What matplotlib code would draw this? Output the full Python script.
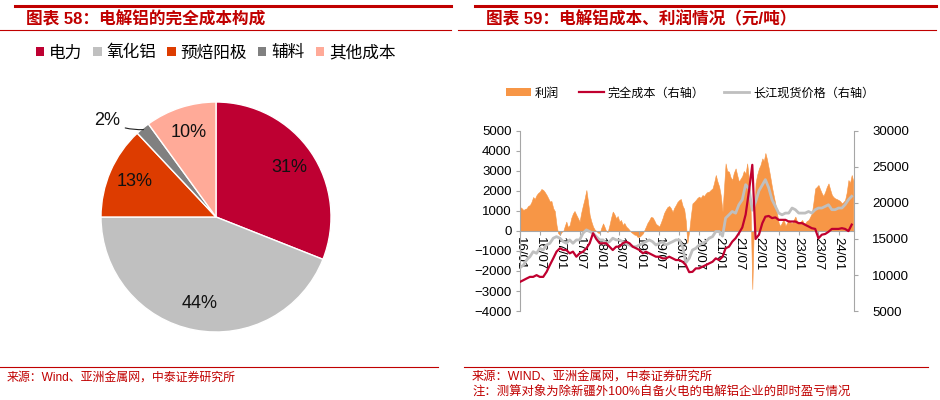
import pandas as pd
import matplotlib
matplotlib.use('Agg')
import matplotlib.pyplot as plt
import matplotlib.dates as mdates
from matplotlib.patches import Patch
from matplotlib.lines import Line2D

plt.rcParams['font.family'] = ['Liberation Sans', 'Noto Sans CJK SC', 'DejaVu Sans']
CJK = ['Noto Sans CJK SC', 'DejaVu Sans']
RED = '#C00000'
GRID = '#A6A6A6'

# 左图：电解铝完全成本构成
pie_labels = ['电力', '氧化铝', '预焙阳极', '辅料', '其他成本']
pie_values = [31, 44, 13, 2, 10]
pie_colors = ['#BE0032', '#C0C0C0', '#DD3C00', '#808080', '#FFAA98']

# 右图：利润（半月），完全成本与长江现货价格（月）
profit_dates = pd.date_range('2016-01-01', '2024-05-16', freq='SMS')
profit = [
    1200, 1150, 1050, 1100, 1130, 1250, 1300, 1450, 1700, 1600, 1800, 1900,
    1970, 2100, 2050, 1950, 1800, 1650, 1470, 1500, 1130, 1000, 300, -100,
    -200, -50, 0, 250, 470, 200, 300, 650, 880, 1000, 800, 650,
    470, 900, 1300, 1600, 2050, 1500, 800, 500, 220, 80, 0, -80,
    -100, 150, 380, 200, 0, -50, 300, 650, 970, 850, 630, 750,
    470, 550, 300, 400, 220, 150, 50, -50, -120, -180, -200, -300,
    -280, -220, -120, 50, 220, 400, 550, 700, 680, 550, 350, 300,
    220, 400, 650, 900, 1080, 1200, 1250, 1150, 950, 1150, 1300, 1450,
    1550, 1600, 1250, 1100, 500, -600, 0, 700, 1380, 1450, 1550, 1650,
    1720, 1650, 1800, 1750, 1880, 1950, 1970, 2050, 2130, 2400, 2800, 2500,
    2220, 1800, 970, 2200, 3380, 3000, 2970, 2700, 2550, 2900, 3130, 2800,
    2470, 2600, 2750, 3000, 2880, 3380, 2600, 1500, -2900, 300, 2400, 2800,
    3130, 3300, 3630, 3500, 3900, 3600, 3130, 2700, 2180, 1800, 1340, 900,
    400, 250, 430, 600, 260, 400, 550, 450, 380, 550, 720, 500,
    380, 450, 550, 400, 380, 500, 550, 700, 880, 1400, 2130, 2200,
    2300, 2100, 1880, 1750, 1970, 2200, 2380, 2100, 1800, 1700, 1630, 1600,
    1550, 1500, 1380, 1450, 1550, 1900, 2550, 2400, 2800, 2500,
]
line_dates = pd.date_range('2016-01-01', '2024-05-01', freq='MS')
cost = [
    9045, 9280, 9510, 9740, 9740, 9980, 9740, 9740, 10440, 11380, 12310, 13240,
    13710, 13470, 13470, 13010, 13240, 12540, 13010, 13240, 13710, 14410, 15800, 15000,
    14400, 14410, 14410, 13930, 13470, 13930, 13930, 14410, 14630, 14410, 13930, 13710,
    13470, 13010, 13240, 13010, 12780, 12540, 12540, 12310, 12310, 12540, 12310, 12080,
    12080, 11840, 11380, 10400, 10440, 10920, 10920, 11150, 11380, 11610, 11840, 12310,
    12080, 12540, 13710, 13930, 14630, 15110, 15800, 16600, 18400, 21600, 25300, 15000,
    15600, 17200, 18100, 18200, 17900, 18000, 17660, 17660, 17660, 17430, 17430, 17430,
    17200, 17200, 16970, 16740, 16500, 16400, 15100, 15600, 15700, 16000, 16400, 16400,
    16400, 16500, 16400, 16100, 17000,
]
price = [
    11000, 11380, 12080, 12540, 13240, 13010, 13710, 13470, 14170, 14410, 15110, 15330,
    15110, 14630, 14410, 14870, 14410, 14870, 14870, 15810, 16270, 16040, 15810, 15330,
    14870, 14870, 14410, 14630, 15110, 14870, 14870, 14630, 14410, 14170, 13930, 13930,
    14170, 14410, 14630, 14870, 14630, 14170, 14410, 14630, 14170, 14410, 14630, 14870,
    14870, 13930, 11700, 12310, 13470, 13710, 14170, 14410, 14630, 15110, 15330, 16040,
    16040, 15400, 17900, 18360, 18820, 18590, 19760, 20460, 22550, 22000, 19000, 20140,
    21700, 22500, 23250, 22100, 20460, 19530, 18600, 18360, 18600, 18600, 19300, 19070,
    18600, 18600, 18600, 18820, 18600, 19070, 19300, 19300, 19530, 19760, 19070, 19070,
    19300, 19300, 19760, 20460, 20930,
]

W, H = 940, 400
fig = plt.figure(figsize=(W / 100, H / 100), dpi=100)


def hline(x0, x1, y, lw):
    fig.add_artist(Line2D([x0 / W, x1 / W], [1 - y / H, 1 - y / H],
                          transform=fig.transFigure, color=RED, lw=lw))


# 页眉与页脚的红线
hline(15, 451, 6, 2.2)
hline(475, 936, 6, 2.2)
hline(0, 451, 30, 0.8)
hline(458, 936, 30, 0.8)
hline(0, 438, 367, 0.8)
hline(464, 928, 367, 0.8)

fig.text(26 / W, 1 - 19 / H, '图表 58：电解铝的完全成本构成', fontsize=12,
         weight='bold', color=RED, va='center')
fig.text(486 / W, 1 - 19 / H, '图表 59：电解铝成本、利润情况（元/吨）', fontsize=12,
         weight='bold', color=RED, va='center')

fig.text(7 / W, 1 - 378 / H, '来源：Wind、亚洲金属网，中泰证券研究所',
         fontsize=8.6, color=RED, va='center')
fig.text(472 / W, 1 - 378 / H, '来源：WIND、亚洲金属网，中泰证券研究所',
         fontsize=8.8, color=RED, va='center')
fig.text(472 / W, 1 - 393 / H, '注：测算对象为除新疆外100%自备火电的电解铝企业的即时盈亏情况',
         fontsize=8.9, color=RED, va='center')

# 饼图
axp = fig.add_axes([72.25 / W, 1 - 360.75 / H, 287.5 / W, 287.5 / H])
wedges, texts, autotexts = axp.pie(
    pie_values, colors=pie_colors, startangle=90, counterclock=False,
    autopct=lambda p: f'{p:.0f}%' if p > 3 else '', pctdistance=0.77,
    wedgeprops=dict(edgecolor='white', linewidth=1),
    textprops=dict(fontsize=13, color='#111111'))
axp.annotate('2%', xy=(-0.63, 0.76), xytext=(-0.95, 0.84), fontsize=13,
             ha='center', va='center', color='#111111',
             arrowprops=dict(arrowstyle='-', color='#222222', lw=0.8,
                             shrinkA=2, shrinkB=0,
                             connectionstyle='arc3,rad=0.15'))
axp.set_xlim(-1.25, 1.25)
axp.set_ylim(-1.25, 1.25)
axp.set_aspect('equal')

handles = [Patch(facecolor=c, edgecolor='none') for c in pie_colors]
fig.legend(handles, pie_labels, loc='center left', bbox_to_anchor=(36 / W, 1 - 53 / H),
           ncol=5, frameon=False, prop={'family': CJK, 'size': 12},
           handlelength=0.5, handleheight=0.5, handletextpad=0.3,
           columnspacing=0.65, borderpad=0, borderaxespad=0)

# 利润与成本
ax = fig.add_axes([520 / W, 1 - 311 / H, 334 / W, 180 / H])
ax.fill_between(profit_dates, 0, profit, color='#F79646', lw=0.4)
ax.set_ylim(-4000, 5000)
ax.set_yticks(range(-4000, 5001, 1000))
ax.set_xlim(pd.Timestamp('2016-01-01'), pd.Timestamp('2024-05-22'))
ax.xaxis.set_major_locator(mdates.MonthLocator(bymonth=[1, 7]))
ax.xaxis.set_major_formatter(mdates.DateFormatter('%y/%m'))
for s in ['top', 'right']:
    ax.spines[s].set_visible(False)
ax.spines['left'].set_color(GRID)
ax.spines['bottom'].set_color(GRID)
ax.spines['bottom'].set_position(('data', 0))
ax.tick_params(axis='x', length=3, pad=1, colors=GRID, labelcolor='black',
               labelsize=9.5, labelrotation=-90)
ax.tick_params(axis='y', length=3, pad=3, colors=GRID, labelcolor='black', labelsize=9.5)

ax2 = ax.twinx()
ax2.plot(line_dates, price, color='#BFBFBF', lw=2)
ax2.plot(line_dates, cost, color='#C0002F', lw=1.6)
ax2.set_ylim(5000, 30000)
ax2.set_yticks(range(5000, 30001, 5000))
for s in ['top', 'left', 'bottom']:
    ax2.spines[s].set_visible(False)
ax2.spines['right'].set_color(GRID)
ax2.tick_params(axis='y', length=3, pad=10, colors=GRID, labelcolor='black', labelsize=9.5)

h2 = [Patch(facecolor='#F79646', edgecolor='none'),
      Line2D([], [], color='#C0002F', lw=1.6),
      Line2D([], [], color='#BFBFBF', lw=2)]
fig.legend(h2, ['利润', '完全成本（右轴）', '长江现货价格（右轴）'], loc='center left',
           bbox_to_anchor=(506 / W, 1 - 93 / H), ncol=3, frameon=False,
           prop={'family': CJK, 'size': 8.7}, handlelength=2.1, handleheight=0.6,
           handletextpad=0.3, columnspacing=1.6, borderpad=0, borderaxespad=0)

fig.savefig('out.png', dpi=100)
